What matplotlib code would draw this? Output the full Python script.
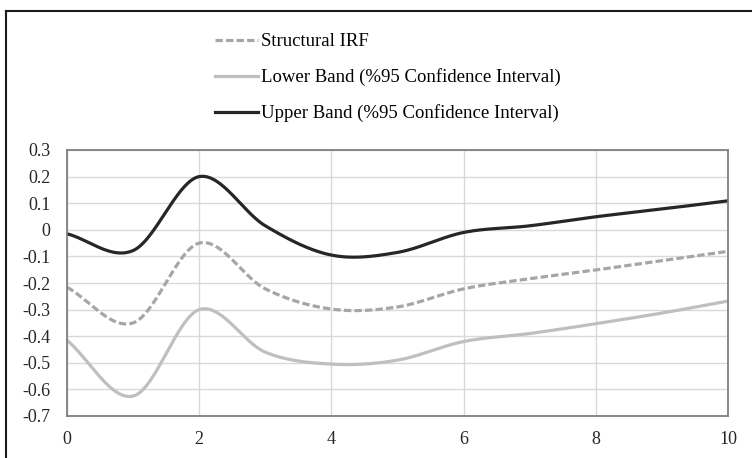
import matplotlib
matplotlib.use("Agg")
import matplotlib.pyplot as plt
from matplotlib.lines import Line2D
import numpy as np

# Data (horizon 0..10)
periods = [0, 1, 2, 3, 4, 5, 6, 7, 8, 9, 10]
structural_irf = [-0.216, -0.35, -0.05, -0.222, -0.298, -0.29, -0.222, -0.184, -0.151, -0.116, -0.081]
lower_band = [-0.415, -0.625, -0.30, -0.46, -0.505, -0.49, -0.42, -0.39, -0.353, -0.313, -0.268]
upper_band = [-0.015, -0.078, 0.20, 0.015, -0.095, -0.085, -0.01, 0.015, 0.049, 0.078, 0.109]

labels = ["Structural IRF",
          "Lower Band (%95 Confidence Interval)",
          "Upper Band (%95 Confidence Interval)"]
y_ticks = [0.3, 0.2, 0.1, 0, -0.1, -0.2, -0.3, -0.4, -0.5, -0.6, -0.7]
x_ticks = [0, 2, 4, 6, 8, 10]


def smooth(x, y, n=40):
    """Excel-like smoothed line (Catmull-Rom through the points)."""
    x = np.asarray(x, float)
    y = np.asarray(y, float)
    m = np.zeros_like(y)
    m[1:-1] = (y[2:] - y[:-2]) / 2
    m[0] = y[1] - y[0]
    m[-1] = y[-1] - y[-2]
    xs, ys = [], []
    for i in range(len(x) - 1):
        t = np.linspace(0, 1, n, endpoint=False)
        h00 = 2 * t**3 - 3 * t**2 + 1
        h10 = t**3 - 2 * t**2 + t
        h01 = -2 * t**3 + 3 * t**2
        h11 = t**3 - t**2
        xs.append(x[i] + t * (x[i + 1] - x[i]))
        ys.append(h00 * y[i] + h10 * m[i] + h01 * y[i + 1] + h11 * m[i + 1])
    xs.append([x[-1]])
    ys.append([y[-1]])
    return np.concatenate(xs), np.concatenate(ys)


plt.rcParams['font.family'] = ['Liberation Serif', 'DejaVu Serif']

fig = plt.figure(figsize=(7.52, 4.58), dpi=100)
ax = fig.add_axes([67 / 752, 1 - 416 / 458, (728 - 67) / 752, (416 - 150) / 458])

lw = 2.3
xs, ys = smooth(periods, structural_irf)
ax.plot(xs, ys, color='#a6a6a6', lw=lw, linestyle=(0, (2.3, 1.0)), label=labels[0])
xs, ys = smooth(periods, lower_band)
ax.plot(xs, ys, color='#bfbfbf', lw=lw, label=labels[1])
xs, ys = smooth(periods, upper_band)
ax.plot(xs, ys, color='#262626', lw=lw, label=labels[2])

ax.set_xlim(0, 10)
ax.set_ylim(-0.7, 0.3)
ax.set_xticks(x_ticks)
ax.set_xticklabels([str(v) for v in x_ticks])
ax.set_yticks(y_ticks)
ax.set_yticklabels(['0' if v == 0 else f'{v:.1f}' for v in y_ticks])
ax.tick_params(length=0, labelsize=13, colors='#262626')
ax.tick_params(axis='y', pad=12)
ax.tick_params(axis='x', pad=11)
ax.grid(True, color='#d9d9d9', lw=1)
ax.set_axisbelow(True)
for s in ax.spines.values():
    s.set_color('#7f7f7f')
    s.set_linewidth(1.3)

fig.legend(loc='upper left', bbox_to_anchor=(215 / 752, 1 - 33 / 458),
           frameon=False, fontsize=13.5, handlelength=2.3, handletextpad=0.15,
           labelspacing=0.97, borderpad=0, borderaxespad=0)

# outer chart frame (only top and left edges visible in the crop)
fig.add_artist(Line2D([6 / 752, 1], [1 - 11 / 458] * 2, color='#1a1a1a', lw=1.5))
fig.add_artist(Line2D([6 / 752] * 2, [0, 1 - 11 / 458], color='#1a1a1a', lw=1.5))

fig.savefig('out.png', dpi=100)
